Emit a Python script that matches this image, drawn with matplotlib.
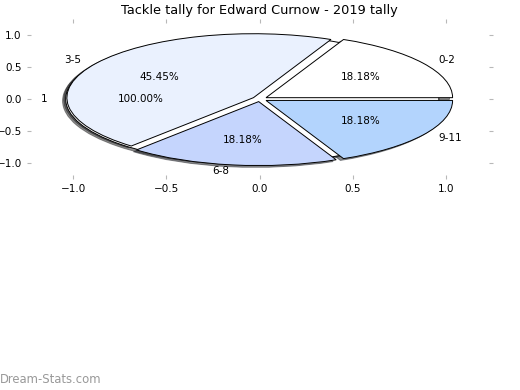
import matplotlib
matplotlib.use("Agg")
import matplotlib.pyplot as plt

# background single-slice pie
total_labels = ["1"]
total_values = [11]
total_explode = [0.04]

# tally buckets
bucket_labels = ["0-2", "3-5", "6-8", "9-11"]
bucket_values = [2, 5, 2, 2]
bucket_colors = ["#ffffff", "#eaf1fe", "#c5d5fd", "#b3d4fd"]
bucket_explode = [0.04, 0.04, 0.04, 0.04]

ticks = [-1.0, -0.5, 0.0, 0.5, 1.0]
title = "Tackle tally for Edward Curnow - 2019 tally"

fig = plt.figure(figsize=(5.2, 3.9), dpi=100)
ax = fig.add_subplot(111)
fig.subplots_adjust(left=0.051, right=0.948, bottom=0.541, top=0.951)

wedge_style = {"edgecolor": "black", "linewidth": 0.7}
text_style = {"fontsize": 7.5}
shadow_style = {"ox": -0.012, "oy": -0.02, "shade": 0.85}

ax.pie(total_values, labels=total_labels, colors=["#ffffff"],
       explode=total_explode, autopct="%1.2f%%", shadow=shadow_style,
       frame=True, wedgeprops=wedge_style, textprops=text_style)
ax.pie(bucket_values, labels=bucket_labels, colors=bucket_colors,
       explode=bucket_explode, autopct="%1.2f%%", shadow=shadow_style,
       frame=True, wedgeprops=wedge_style, textprops=text_style)

ax.set_aspect("auto")
ax.set_xlim(-1.25, 1.25)
ax.set_ylim(-1.25, 1.25)
ax.set_xticks(ticks)
ax.set_yticks(ticks)
ax.tick_params(direction="in", length=3, color="#b8b8b8", top=True,
               right=True, labelsize=7.5)
for s in ax.spines.values():
    s.set_visible(False)

ax.set_title(title, fontsize=9.3, pad=3.5)
fig.text(0.0, 0.01, "Dream-Stats.com", color="#999999", fontsize=8.4,
         ha="left", va="bottom")

fig.savefig("out.png", dpi=100)
